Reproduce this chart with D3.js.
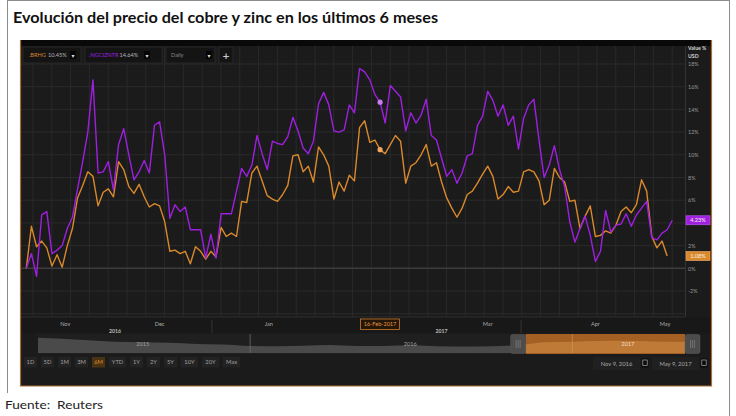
<!DOCTYPE html>
<html><head><meta charset="utf-8">
<script src="https://cdn.jsdelivr.net/npm/d3@7"></script>
<style>body{margin:0;background:#fff;} svg{display:block;}</style>
</head><body>
<svg id="c" width="736" height="416"></svg>
<script>
// ---- data ----
const zincValues = [0.0,1.3,-0.7,4.7,5.0,1.3,1.6,2.0,3.5,4.5,7.0,9.4,12.0,16.6,8.4,8.5,9.4,6.9,10.9,12.3,
 10.0,7.8,8.5,9.5,8.4,12.6,12.9,10.0,4.4,5.6,5.0,5.4,3.4,3.4,3.4,0.9,3.0,0.9,4.8,4.8,
 4.8,6.8,8.8,8.1,9.1,11.7,10.1,8.7,11.2,11.0,10.9,11.6,13.3,12.1,10.6,10.1,11.2,14.5,15.5,14.4,
 12.1,12.0,12.2,14.4,13.7,17.6,17.3,16.6,15.3,14.64,12.8,16.1,15.6,15.1,12.1,13.7,12.8,13.5,14.9,11.7,
 11.3,9.7,8.1,8.7,7.5,8.4,9.9,10.1,12.6,13.4,15.6,14.8,13.4,14.4,12.6,13.4,10.5,13.2,14.4,14.9,
 11.3,8.0,9.1,10.8,8.7,7.2,4.1,2.3,3.5,4.6,2.9,0.6,1.5,5.1,3.2,3.8,3.9,4.8,3.7,4.7,
 5.3,5.9,2.7,2.5,3.1,3.4,4.23];
const copperValues = [0.0,3.7,1.9,2.4,1.8,0.2,1.2,0.1,2.0,3.5,6.2,7.3,8.5,8.1,5.5,6.7,7.0,6.3,9.4,8.7,
 7.2,6.6,7.4,6.3,5.4,5.7,5.5,4.1,1.5,1.6,1.3,1.5,0.4,1.9,1.5,0.8,1.5,1.0,3.6,2.8,
 3.1,2.8,5.9,5.8,8.4,9.0,7.7,6.4,6.1,5.9,6.5,7.3,9.9,10.0,8.5,9.0,7.6,10.7,10.0,9.0,
 6.1,7.6,6.8,8.2,7.7,12.4,13.0,11.1,11.3,10.45,10.1,10.9,11.7,11.2,7.5,9.0,9.3,10.0,10.9,9.0,
 9.3,7.6,6.2,5.3,4.5,5.3,6.5,6.8,7.5,8.3,9.0,8.1,6.1,6.5,7.2,6.7,6.8,8.5,8.7,8.5,
 7.7,5.6,6.0,8.8,8.0,7.6,5.9,6.0,3.5,4.6,5.5,2.8,2.9,3.3,3.1,3.8,5.0,5.4,4.9,5.6,
 7.8,6.8,2.8,1.8,2.4,1.08];
const seriesNames = [".BRHG", ".NGCIZNTR"];
const legendValues = ["10.45%", "14.64%"];
const lastLabels = ["1.08%", "4.23%"];
const yTicks = [18,16,14,12,10,8,6,2,0,-2];
const gridValues = [20,18,16,14,12,10,8,6,4,2,0,-2,-4];
const monthLabels = ["Nov","Dec","Jan","Mar","Apr","May"];
const monthPos = [7.6, 26, 47.3, 90, 111, 124.6];
const yearLabels = ["2016","2017"];
const yearPos = [17.3, 81];
const quarterSeps = [36.2, 96.5];
const crossIdx = 69;
const crossLabel = "16-Feb-2017";
const rangeButtons = ["1D","5D","1M","3M","6M","YTD","1Y","2Y","5Y","10Y","20Y","Max"];
const activeButton = "6M";
const navMonths = ["2015-05","2015-06","2015-07","2015-08","2015-09","2015-10","2015-11","2015-12",
 "2016-01","2016-02","2016-03","2016-04","2016-05","2016-06","2016-07","2016-08","2016-09","2016-10",
 "2016-11","2016-12","2017-01","2017-02","2017-03","2017-04","2017-05"];
const navValues = [2.85,2.75,2.62,2.5,2.45,2.4,2.3,2.25,2.12,2.1,2.15,2.2,2.12,2.12,2.18,2.1,2.08,2.1,
 2.2,2.45,2.5,2.55,2.58,2.52,2.5];
const navYears = ["2015","2016","2017"];
const navYearMid = ["2015-09-01","2016-07-01","2017-03-05"];
const navYearStarts = ["2016-01-01","2017-01-01"];
const selStart = "2016-11-09", selEnd = "2017-05-09";
const dateBoxes = ["Nov 9, 2016", "May 9, 2017"];
const titleText = "Evolución del precio del cobre y zinc en los últimos 6 meses";
const sourceText = "Fuente:  Reuters";

// ---- drawing ----
const svg = d3.select("#c");
const ORANGE = "#d9892c", PURPLE = "#9e1fe0";
const FONT = "Lato, 'Open Sans', sans-serif";

svg.append("rect").attr("width",736).attr("height",416).attr("fill","#fff");
// outer frame
svg.append("line").attr("x1",7.5).attr("x2",7.5).attr("y1",0).attr("y2",393).attr("stroke","#8c8c8c");
svg.append("line").attr("x1",729.5).attr("x2",729.5).attr("y1",0).attr("y2",416).attr("stroke","#8c8c8c");
svg.append("line").attr("x1",7.5).attr("x2",729.5).attr("y1",0.5).attr("y2",0.5).attr("stroke","#8c8c8c");

svg.append("text").text(titleText).attr("x",13).attr("y",23)
  .attr("font-family",FONT).attr("font-weight","bold").attr("font-size",15)
  .attr("textLength",425).attr("lengthAdjust","spacingAndGlyphs").attr("fill","#111");
svg.append("text").text(sourceText).attr("x",5).attr("y",409)
  .attr("font-family",FONT).attr("font-size",11.5).attr("xml:space","preserve")
  .attr("textLength",98).attr("lengthAdjust","spacingAndGlyphs").attr("fill","#222");

// panel
const P = {l:20.5, r:711.5, t:40, b:386};
svg.append("rect").attr("x",P.l).attr("y",P.t).attr("width",P.r-P.l).attr("height",P.b-P.t)
  .attr("fill","#1b1b1b");
const plot = {l:21, r:685, t:46, b:317};

const x = d3.scaleLinear().domain([0, zincValues.length-1]).range([26.3, 672.3]);
const y = d3.scaleLinear().domain([-2, 18]).range([291, 64]);

// grid
const g = svg.append("g");
const vIdx = d3.range(1.3, 130, 3.667);
g.selectAll(".vg").data(vIdx.filter(d => x(d) < plot.r - 2)).join("line")
  .attr("x1",d=>x(d)).attr("x2",d=>x(d)).attr("y1",plot.t).attr("y2",plot.b)
  .attr("stroke","#2a2a2a").attr("stroke-width",1);
g.selectAll(".hg").data(gridValues).join("line")
  .attr("x1",plot.l).attr("x2",plot.r).attr("y1",d=>y(d)).attr("y2",d=>y(d))
  .attr("stroke",d=> d===0 ? "#3d3d3d" : "#2a2a2a").attr("stroke-width",d=>d===0?1.5:1);
svg.append("line").attr("x1",plot.r+0.5).attr("x2",plot.r+0.5).attr("y1",plot.t).attr("y2",plot.b)
  .attr("stroke","#333");
// top black strip
svg.append("rect").attr("x",P.l).attr("y",P.t).attr("width",P.r-P.l).attr("height",6).attr("fill","#090909");

// lines
const line = d3.line().x((d,i)=>x(i)).y(d=>y(d));
svg.append("path").datum(copperValues).attr("d",line).attr("fill","none")
  .attr("stroke",ORANGE).attr("stroke-width",1.4).attr("stroke-linejoin","round");
svg.append("path").datum(zincValues).attr("d",line).attr("fill","none")
  .attr("stroke",PURPLE).attr("stroke-width",1.4).attr("stroke-linejoin","round");
// crosshair dots
svg.append("circle").attr("cx",x(crossIdx)).attr("cy",y(zincValues[crossIdx])).attr("r",2.6).attr("fill","#c77cf0");
svg.append("circle").attr("cx",x(crossIdx)).attr("cy",y(copperValues[crossIdx])).attr("r",2.6).attr("fill","#f2a75e");

// toolbar
function box(x0, w, parts, arrowX){
  svg.append("rect").attr("x",x0).attr("y",47).attr("width",w).attr("height",16)
    .attr("fill","#141414").attr("stroke","#262626");
  parts.forEach(p => svg.append("text").text(p.t).attr("x",p.x).attr("y",57.3)
    .attr("font-family",FONT).attr("font-size",5.6).attr("fill",p.c));
  if (arrowX){
    svg.append("rect").attr("x",arrowX).attr("y",51).attr("width",6).attr("height",8).attr("fill","#050505");
    svg.append("text").text("▾").attr("x",arrowX+3).attr("y",57.5).attr("text-anchor","middle")
      .attr("font-size",6).attr("fill","#ddd").attr("font-family","DejaVu Sans");
  }
}
box(23, 58, [{t:seriesNames[0],x:29,c:ORANGE},{t:legendValues[0],x:48,c:"#b5b5b5"}], 70);
box(85, 77, [{t:seriesNames[1],x:89,c:PURPLE},{t:legendValues[1],x:119.5,c:"#b5b5b5"}], 144);
box(166, 49, [{t:"Daily",x:171,c:"#8a8a8a"}], 206);
svg.append("rect").attr("x",219).attr("y",47).attr("width",14).attr("height",16).attr("fill","#141414").attr("stroke","#262626");
svg.append("text").text("+").attr("x",226).attr("y",58.5).attr("text-anchor","middle")
  .attr("font-family","DejaVu Sans").attr("font-weight","bold").attr("font-size",9).attr("fill","#ccc");

// right axis
svg.append("text").text("Value %").attr("x",688).attr("y",49.5).attr("font-family",FONT)
  .attr("font-weight","bold").attr("font-size",5.2).attr("fill","#d0d0d0");
svg.append("text").text("USD").attr("x",688).attr("y",57.5).attr("font-family",FONT)
  .attr("font-weight","bold").attr("font-size",5.2).attr("fill","#d0d0d0");
svg.selectAll(".yt").data(yTicks).join("text").text(d=>d+"%")
  .attr("x",688).attr("y",d=>y(d)+2.2).attr("font-family",FONT).attr("font-size",5.4).attr("fill","#9a9a9a");
// last value tags
[[copperValues, ORANGE, lastLabels[0]], [zincValues, PURPLE, lastLabels[1]]].forEach(([vals,c,lab])=>{
  const yy = y(vals[vals.length-1]);
  svg.append("rect").attr("x",686).attr("y",yy-4.5).attr("width",24).attr("height",9).attr("fill",c)
    .attr("stroke", c===ORANGE? "#f0b070":"#c060ff").attr("stroke-width",0.6);
  svg.append("text").text(lab).attr("x",698).attr("y",yy+2.1).attr("text-anchor","middle")
    .attr("font-family",FONT).attr("font-size",5.6).attr("fill","#fbeee0");
});

// x axis band
svg.append("rect").attr("x",P.l+0.5).attr("y",plot.b).attr("width",P.r-P.l-1).attr("height",16).attr("fill","#181818");
svg.append("line").attr("x1",plot.l).attr("x2",plot.r).attr("y1",plot.b).attr("y2",plot.b).attr("stroke","#2f2f2f");
svg.selectAll(".qs").data(quarterSeps).join("line")
  .attr("x1",d=>x(d)).attr("x2",d=>x(d)).attr("y1",plot.b+3).attr("y2",plot.b+16).attr("stroke","#333");
svg.selectAll(".ml").data(monthLabels).join("text").text(d=>d)
  .attr("x",(d,i)=>x(monthPos[i])).attr("y",326).attr("text-anchor","middle")
  .attr("font-family",FONT).attr("font-size",5.6).attr("fill","#a8a8a8");
svg.selectAll(".yl").data(yearLabels).join("text").text(d=>d)
  .attr("x",(d,i)=>x(yearPos[i])).attr("y",332.5).attr("text-anchor","middle")
  .attr("font-family",FONT).attr("font-weight","bold").attr("font-size",5.2).attr("fill","#bcbcbc");
svg.append("rect").attr("x",x(crossIdx)-19.5).attr("y",319).attr("width",39).attr("height",10.5)
  .attr("fill","#24170a").attr("stroke","#c97a2c").attr("stroke-width",0.8);
svg.append("text").text(crossLabel).attr("x",x(crossIdx)).attr("y",326.3).attr("text-anchor","middle")
  .attr("font-family",FONT).attr("font-size",5.6).attr("fill","#e5963c");

// navigator
const parse = d3.timeParse("%Y-%m");
const pd = d3.timeParse("%Y-%m-%d");
const nx = d3.scaleTime().domain([pd("2015-05-05"), pd("2017-05-09")]).range([38, 685]);
const ny = d3.scaleLinear().domain([1.5, 3.0]).range([353, 336]);
const navData = navMonths.map((m,i)=>({d: parse(m), v: navValues[i]}));
navData[0].d = pd("2015-05-05");
navData[navData.length-1].d = pd("2017-05-09");
svg.append("rect").attr("x",38).attr("y",334).attr("width",647).attr("height",20).attr("fill","#1f1f1f");
const area = d3.area().x(d=>nx(d.d)).y0(353).y1(d=>ny(d.v)).curve(d3.curveMonotoneX);
svg.append("path").datum(navData).attr("d",area).attr("fill","#4a4a4a");
svg.selectAll(".ny").data(navYearStarts).join("line")
  .attr("x1",d=>nx(pd(d))).attr("x2",d=>nx(pd(d))).attr("y1",334).attr("y2",353)
  .attr("stroke","#6a6a6a").attr("stroke-width",0.8);
const sx0 = nx(pd(selStart)), sx1 = nx(pd(selEnd));
svg.append("rect").attr("x",sx0).attr("y",334).attr("width",sx1-sx0).attr("height",20).attr("fill","#a45f22");
svg.append("clipPath").attr("id","sel").append("rect").attr("x",sx0).attr("y",334).attr("width",sx1-sx0).attr("height",20);
svg.append("path").datum(navData).attr("d",area).attr("fill","#c07a38").attr("clip-path","url(#sel)");
svg.append("line").attr("x1",nx(pd(navYearStarts[1]))).attr("x2",nx(pd(navYearStarts[1])))
  .attr("y1",334).attr("y2",353).attr("stroke","#d49a60").attr("stroke-width",0.6);
svg.selectAll(".nyl").data(navYears).join("text").text(d=>d)
  .attr("x",(d,i)=>nx(pd(navYearMid[i]))).attr("y",346).attr("text-anchor","middle")
  .attr("font-family",FONT).attr("font-size",5.6).attr("fill",(d,i)=> i===2 ? "#f2dcc4" : "#a0a0a0");
[sx0-15, sx1].forEach(hx=>{
  svg.append("rect").attr("x",hx).attr("y",334.5).attr("width",15).attr("height",19).attr("rx",2)
    .attr("fill","#4c4c4c").attr("stroke","#5c5c5c").attr("stroke-width",0.5);
  [-2,0,2].forEach(o => svg.append("line").attr("x1",hx+7.5+o).attr("x2",hx+7.5+o)
    .attr("y1",340).attr("y2",348).attr("stroke","#8a8a8a").attr("stroke-width",0.6));
});

// range buttons
let bx = 24;
rangeButtons.forEach(b=>{
  const w = 5 + 4*b.length;
  const act = b === activeButton;
  svg.append("rect").attr("x",bx).attr("y",357).attr("width",w).attr("height",10.5)
    .attr("fill", act ? "#4a3313" : "#232323");
  svg.append("text").text(b).attr("x",bx+w/2).attr("y",364.3).attr("text-anchor","middle")
    .attr("font-family",FONT).attr("font-size",5.8).attr("fill", act ? "#d9892b" : "#a0a0a0");
  bx += w + 4;
});
// date boxes
[[593, dateBoxes[0]], [652, dateBoxes[1]]].forEach(([dx, t])=>{
  svg.append("rect").attr("x",dx).attr("y",357).attr("width",47).attr("height",13).attr("fill","#202020");
  svg.append("text").text(t).attr("x",dx+23.5).attr("y",365.5).attr("text-anchor","middle")
    .attr("font-family",FONT).attr("font-size",5.8).attr("fill","#a8a8a8");
  svg.append("rect").attr("x",dx+48.5).attr("y",358.5).attr("width",7).attr("height",9).attr("fill","#0c0c0c");
  svg.append("rect").attr("x",dx+49.8).attr("y",360).attr("width",4.4).attr("height",5.5).attr("fill","none")
    .attr("stroke","#aaa").attr("stroke-width",0.7);
});

// panel border (left, right, bottom orange-brown)
svg.append("path").attr("d",`M${P.l},${P.t}V${P.b}H${P.r}V${P.t}`).attr("fill","none")
  .attr("stroke","#a86e34").attr("stroke-width",1.2);
</script>
</body></html>
